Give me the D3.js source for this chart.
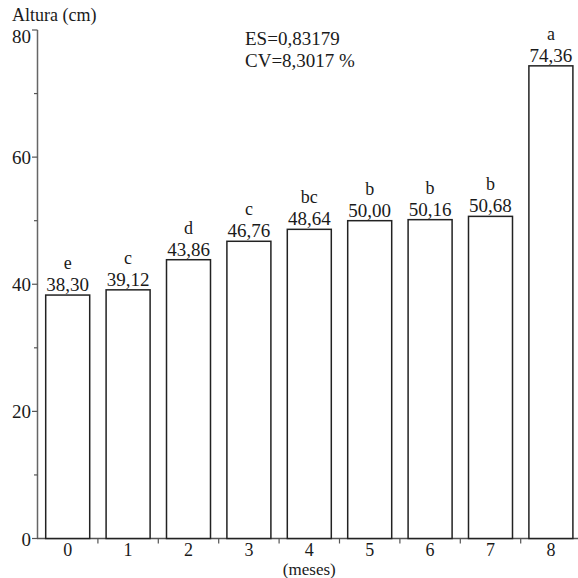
<!DOCTYPE html>
<html><head><meta charset="utf-8">
<script src="https://cdn.jsdelivr.net/npm/d3@7"></script>
<style>html,body{margin:0;padding:0;background:#fff} svg text{font-family:'Liberation Serif',serif;}</style>
</head><body>
<svg id="c" width="578" height="578"></svg>
<script>
const categories = ["0","1","2","3","4","5","6","7","8"];
const values = [38.30, 39.12, 43.86, 46.76, 48.64, 50.00, 50.16, 50.68, 74.36];
const valueLabels = ["38,30","39,12","43,86","46,76","48,64","50,00","50,16","50,68","74,36"];
const letters = ["e","c","d","c","bc","b","b","b","a"];
const yTicks = [0,20,40,60,80];
const yMinor = [10,30,50,70];

const svg = d3.select("#c");
const x = d3.scaleBand().domain(categories).range([37.5, 581.1]).paddingInner(0.2715).paddingOuter(0.1358);
const y = d3.scaleLinear().domain([0,80]).range([538.5, 30]);
const ink = "#1a1a1a";

function txt(sel, size){ return sel.attr("font-family","Liberation Serif").attr("font-size", size).attr("fill", ink); }

svg.append("line").attr("x1",37.5).attr("x2",37.5).attr("y1",y(80)).attr("y2",y(0)).attr("stroke","#666").attr("stroke-width",1.5);
svg.append("line").attr("x1",37).attr("x2",578).attr("y1",y(0)).attr("y2",y(0)).attr("stroke","#555").attr("stroke-width",1.5);

const yAxis = svg.append("g");
yTicks.forEach(t=>{
  yAxis.append("line").attr("x1",32).attr("x2",37.5).attr("y1",y(t)).attr("y2",y(t)).attr("stroke","#555").attr("stroke-width",1.2);
  txt(yAxis.append("text").attr("x",31).attr("y",t===80 ? y(t)+13 : y(t)+7).attr("text-anchor","end"), 19).text(t);
});
yMinor.forEach(t=>{
  yAxis.append("line").attr("x1",34).attr("x2",37.5).attr("y1",y(t)).attr("y2",y(t)).attr("stroke","#555").attr("stroke-width",1.2);
});

const step = x.step();
categories.slice(1).forEach(c=>{
  const xx = x(c) - (step - x.bandwidth())/2;
  svg.append("line").attr("x1",xx).attr("x2",xx).attr("y1",y(0)).attr("y2",y(0)+5).attr("stroke","#555").attr("stroke-width",1.2);
});

svg.selectAll("rect.bar").data(values).join("rect").attr("class","bar")
  .attr("x",(d,i)=>x(categories[i])).attr("width",x.bandwidth())
  .attr("y",d=>y(d)).attr("height",d=>y(0)-y(d))
  .attr("fill","#fff").attr("stroke","#222").attr("stroke-width",1.5);

txt(svg.selectAll("text.val").data(values).join("text").attr("class","val")
  .attr("x",(d,i)=>x(categories[i])+x.bandwidth()/2).attr("y",d=>y(d)-4)
  .attr("text-anchor","middle"), 19)
  .text((d,i)=>valueLabels[i]);

txt(svg.selectAll("text.let").data(values).join("text").attr("class","let")
  .attr("x",(d,i)=>x(categories[i])+x.bandwidth()/2).attr("y",d=>y(d)-26)
  .attr("text-anchor","middle"), 18)
  .text((d,i)=>letters[i]);

txt(svg.selectAll("text.cat").data(categories).join("text").attr("class","cat")
  .attr("x",d=>x(d)+x.bandwidth()/2).attr("y",556)
  .attr("text-anchor","middle"), 18).text(d=>d);

txt(svg.append("text").attr("x",x("4")+x.bandwidth()/2).attr("y",575).attr("text-anchor","middle"), 17).text("(meses)");

txt(svg.append("text").attr("x",12).attr("y",21), 18).text("Altura (cm)");
txt(svg.append("text").attr("x",245).attr("y",45), 19).text("ES=0,83179");
txt(svg.append("text").attr("x",245).attr("y",67), 19).text("CV=8,3017 %");
</script>
</body></html>
